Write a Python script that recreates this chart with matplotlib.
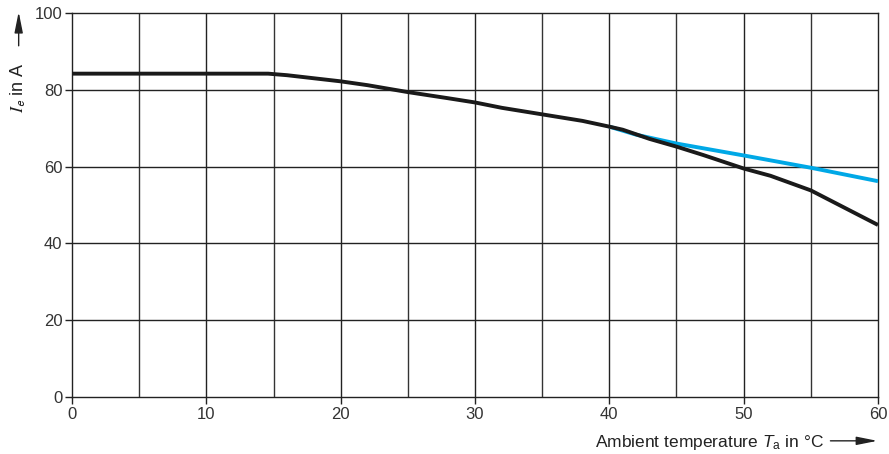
import numpy as np
import matplotlib.pyplot as plt

plt.rcParams['font.family'] = ['Liberation Sans', 'DejaVu Sans']
plt.rcParams['mathtext.fontset'] = 'custom'
plt.rcParams['mathtext.rm'] = 'Liberation Sans'
plt.rcParams['mathtext.it'] = 'Liberation Sans:italic'

# Kurve schwarz (Ie bei Ta)
ta_black = [0, 14.6, 16, 18, 20, 22, 25, 28, 30, 32, 35, 38, 40, 41, 43, 45, 47, 50, 52, 55, 57, 60]
ie_black = [84.2, 84.2, 83.8, 83.0, 82.2, 81.2, 79.4, 77.8, 76.7, 75.3, 73.6, 71.9, 70.4, 69.6, 67.2, 65.2, 63.0, 59.5, 57.6, 53.8, 50.2, 44.8]

# Kurve blau
ta_blue = [40, 42, 45, 50, 55, 60]
ie_blue = [70.4, 68.3, 66.0, 62.9, 59.7, 56.2]

x_ticks = [0, 10, 20, 30, 40, 50, 60]
y_ticks = [0, 20, 40, 60, 80, 100]

fig = plt.figure(figsize=(8.89, 4.54), dpi=100)
ax = fig.add_axes([0.081, 0.1256, 0.9066, 0.8458])

# Gitter
for x in np.arange(5, 60, 5):
    ax.axvline(x, color='#333333' if x % 10 else '#222222', lw=1.0, zorder=1)
for y in [20, 40, 60, 80]:
    ax.axhline(y, color='#222222', lw=1.0, zorder=1)

ax.plot(ta_blue, ie_blue, color='#00a8e6', lw=2.8, zorder=3, solid_capstyle='butt')
ax.plot(ta_black, ie_black, color='#1a1a1a', lw=2.8, zorder=4, solid_capstyle='butt')

ax.set_xlim(0, 60)
ax.set_ylim(0, 100)
ax.set_xticks(x_ticks)
ax.set_yticks(y_ticks)
ax.tick_params(direction='out', length=5, width=1, color='#222222', labelsize=12, labelcolor='#333333', pad=2)
for s in ax.spines.values():
    s.set_color('#222222')
    s.set_linewidth(1.0)

# Achsenbeschriftungen mit Pfeilen
fig.text(0.669, 0.016, r'Ambient temperature $T_\mathrm{a}$ in °C', ha='left', va='baseline',
         fontsize=12.5, color='#222222')
ax.annotate('', xy=(0.99, 0.029), xytext=(0.931, 0.029), xycoords='figure fraction',
            arrowprops=dict(arrowstyle='-|>,head_length=0.9,head_width=0.18', color='#222222',
                            lw=1.0, mutation_scale=14))

fig.text(0.021, 0.752, r'$I_\mathsf{e}$ in A', rotation=90, ha='center', va='bottom',
         fontsize=13, color='#222222', math_fontfamily='stix')
ax.annotate('', xy=(0.021, 0.98), xytext=(0.021, 0.893), xycoords='figure fraction',
            arrowprops=dict(arrowstyle='-|>,head_length=0.9,head_width=0.18', color='#222222',
                            lw=1.0, mutation_scale=14))

fig.savefig('out.png', dpi=100)
